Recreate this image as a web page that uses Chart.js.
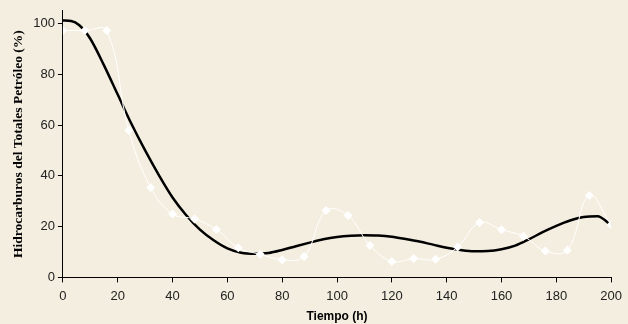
<!DOCTYPE html>
<html lang="es">
<head>
    <meta charset="UTF-8">
    <title>Hidrocarburos Totales del Petróleo</title>
    <script src="https://cdn.jsdelivr.net/npm/chart.js"></script>
    <style>
        html, body {
            margin: 0;
            padding: 0;
            background-color: #f3eedf;
        }
        .wrap {
            width: 628px;
            height: 324px;
        }
    </style>
</head>
<body>
    <div class="wrap">
        <canvas id="myChart" width="628" height="324"></canvas>
    </div>

    <script>
        // mediciones (puntos blancos), cada 8 h
        const horasMedidas = [0, 8, 16, 24, 32, 40, 48, 56, 64, 72, 80, 88, 96, 104, 112, 120, 128, 136, 144, 152, 160, 168, 176, 184, 192, 200];
        const htpMedido = [97.2, 97.2, 97.2, 58, 35.4, 25, 23, 18.9, 11.7, 9.1, 7, 8.2, 26.3, 24.4, 12.6, 6.3, 7.4, 7.1, 12, 21.6, 18.8, 16.2, 10.4, 10.7, 32.3, 20.7];

        // curva ajustada (linea negra)
        const horasModelo = [0, 3, 6, 10, 15, 20, 25, 30, 35, 40, 45, 50, 55, 60, 65, 70, 75, 80, 85, 90, 95, 100, 105, 110, 115, 120, 125, 130, 135, 140, 145, 150, 155, 160, 165, 170, 175, 180, 185, 190, 195, 200];
        const htpModelo = [101.2, 101, 99.3, 94, 83.5, 72, 60.5, 50, 40.3, 31.5, 24.5, 18.8, 14.6, 11.4, 9.7, 9.3, 9.6, 10.8, 12.3, 13.7, 15, 15.9, 16.4, 16.6, 16.5, 16, 15.1, 14.1, 12.9, 11.7, 10.8, 10.3, 10.4, 11.1, 12.5, 15, 17.8, 20.3, 22.4, 23.8, 24.1, 20.6];

        const yTicks = [0, 20, 40, 60, 80, 100];

        const fondo = {
            id: 'fondo',
            beforeDraw(chart) {
                const c = chart.ctx;
                c.save();
                c.fillStyle = '#f3eedf';
                c.fillRect(0, 0, chart.width, chart.height);
                c.restore();
            }
        };

        const ctx = document.getElementById('myChart').getContext('2d');
        const myChart = new Chart(ctx, {
            type: 'line',
            data: {
                datasets: [{
                    label: 'Medido',
                    data: horasMedidas.map((h, i) => ({ x: h, y: htpMedido[i] })),
                    borderColor: '#ffffff',
                    borderWidth: 1,
                    pointStyle: 'rectRot',
                    pointRadius: 4.5,
                    pointBackgroundColor: '#ffffff',
                    pointBorderColor: '#ffffff',
                    pointBorderWidth: 0,
                    tension: 0.4,
                    fill: false
                }, {
                    label: 'Modelo',
                    data: horasModelo.map((h, i) => ({ x: h, y: htpModelo[i] })),
                    borderColor: '#000000',
                    borderWidth: 2.5,
                    pointRadius: 0,
                    cubicInterpolationMode: 'monotone',
                    fill: false
                }]
            },
            options: {
                responsive: false,
                animation: false,
                layout: {
                    padding: { left: 10, right: 2, top: 5, bottom: 0 }
                },
                plugins: {
                    legend: { display: false },
                    tooltip: { enabled: false }
                },
                scales: {
                    x: {
                        type: 'linear',
                        min: 0,
                        max: 200,
                        ticks: {
                            stepSize: 20,
                            color: '#222',
                            font: { family: 'Liberation Sans, Arial', size: 13 },
                            padding: 6,
                            maxRotation: 0
                        },
                        grid: {
                            drawOnChartArea: false,
                            drawTicks: true,
                            tickLength: 5,
                            color: '#000'
                        },
                        border: { display: true, color: '#000', width: 1 },
                        title: {
                            display: true,
                            text: 'Tiempo (h)',
                            color: '#000',
                            font: { family: 'Liberation Sans, Arial', size: 12, weight: 'bold', lineHeight: 1 },
                            padding: { top: 1, bottom: 1 }
                        }
                    },
                    y: {
                        min: 0,
                        max: 105,
                        afterBuildTicks(scale) {
                            scale.ticks = yTicks.map(v => ({ value: v }));
                        },
                        ticks: {
                            color: '#222',
                            font: { family: 'Liberation Sans, Arial', size: 13 },
                            padding: 3
                        },
                        grid: {
                            drawOnChartArea: false,
                            drawTicks: true,
                            tickLength: 5,
                            color: '#000'
                        },
                        border: { display: true, color: '#000', width: 1 },
                        title: {
                            display: true,
                            text: 'Hidrocarburos del Totales Petróleo (%)',
                            color: '#000',
                            font: { family: 'Liberation Serif, Times New Roman', size: 13.5, weight: 'bold' },
                            padding: { top: 0, bottom: 4 }
                        }
                    }
                }
            },
            plugins: [fondo]
        });
    </script>
</body>
</html>
